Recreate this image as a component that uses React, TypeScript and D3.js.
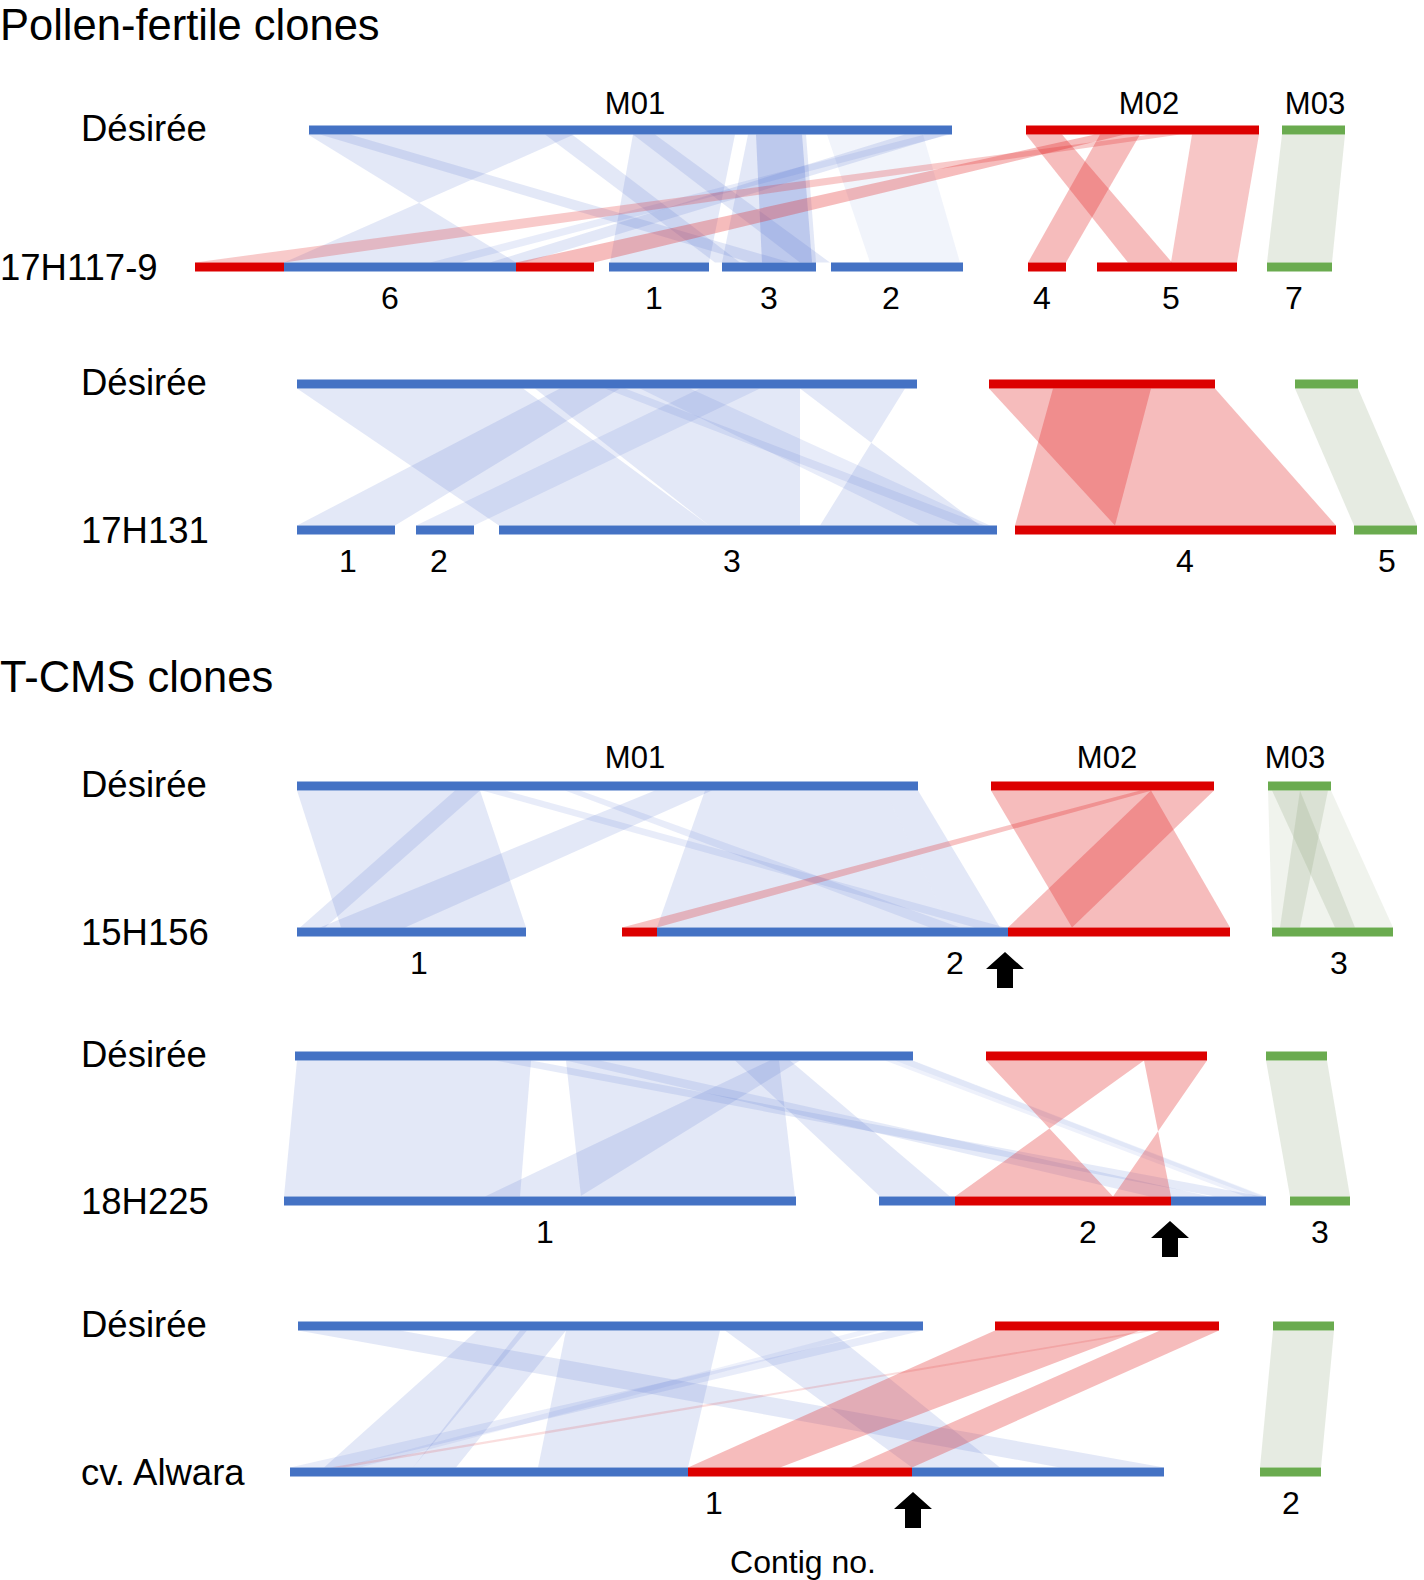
import React from 'react';
import * as d3 from 'd3';

// ---------- DATA (positions in alignment units along the mitogenome map) ----------
// segment: [start, end, molecule]  molecule: 'M01' | 'M02' | 'M03'
const desiree1 = [[309, 952, 'M01'], [1026, 1259, 'M02'], [1282, 1345, 'M03']];
const clone1 = [[195, 284, 'M02'], [284, 516, 'M01'], [516, 594, 'M02'], [609, 709, 'M01'], [722, 816, 'M01'], [831, 963, 'M01'], [1028, 1066, 'M02'], [1097, 1237, 'M02'], [1267, 1332, 'M03']];
const contigs1 = [['6', 390], ['1', 654], ['3', 769], ['2', 891], ['4', 1042], ['5', 1171], ['7', 1294]];
// link: [desiree start, desiree end, clone start, clone end, molecule, weight]
const links1 = [
  [308, 574, 516, 284, 'M01', 1], [320, 350, 750, 790, 'M01', 1], [545, 572, 715, 740, 'M01', 1],
  [633, 655, 800, 830, 'M01', 1], [633, 735, 610, 709, 'M01', 1], [748, 806, 722, 816, 'M01', 1],
  [756, 802, 762, 812, 'M01', 1.6], [827, 923, 870, 960, 'M01', 0.5], [905, 947, 490, 525, 'M01', 1],
  [925, 950, 430, 460, 'M01', 0.8],
  [1095, 1125, 516, 594, 'M02', 1], [1150, 1180, 195, 284, 'M02', 0.8], [1026, 1062, 1128, 1172, 'M02', 1],
  [1100, 1140, 1028, 1066, 'M02', 1], [1192, 1259, 1171, 1237, 'M02', 0.85],
  [1282, 1345, 1267, 1332, 'M03', 1],
];

const desiree2 = [[297, 917, 'M01'], [989, 1215, 'M02'], [1295, 1358, 'M03']];
const clone2 = [[297, 395, 'M01'], [416, 474, 'M01'], [499, 997, 'M01'], [1015, 1336, 'M02'], [1354, 1417, 'M03']];
const contigs2 = [['1', 348], ['2', 439], ['3', 732], ['4', 1185], ['5', 1387]];
const links2 = [
  [297, 523, 499, 709, 'M01', 1], [560, 620, 297, 395, 'M01', 1], [700, 760, 416, 474, 'M01', 0.8],
  [535, 712, 709, 712, 'M01', 1], [712, 800, 712, 800, 'M01', 1], [800, 905, 980, 820, 'M01', 1],
  [605, 625, 960, 985, 'M01', 0.8], [640, 690, 920, 990, 'M01', 0.8],
  [989, 1215, 1115, 1336, 'M02', 1], [1053, 1151, 1015, 1115, 'M02', 1],
  [1295, 1358, 1354, 1417, 'M03', 1],
];

const desiree3 = [[297, 918, 'M01'], [991, 1214, 'M02'], [1268, 1331, 'M03']];
const clone3 = [[297, 526, 'M01'], [622, 657, 'M02'], [657, 1008, 'M01'], [1008, 1230, 'M02'], [1272, 1393, 'M03']];
const contigs3 = [['1', 419], ['2', 955], ['3', 1339]];
const arrows3 = [1005];
const links3 = [
  [297, 480, 341, 526, 'M01', 1], [455, 480, 300, 325, 'M01', 1], [655, 712, 320, 405, 'M01', 1],
  [705, 795, 657, 795, 'M01', 1], [795, 885, 795, 950, 'M01', 1], [885, 918, 950, 1000, 'M01', 1],
  [482, 505, 975, 1005, 'M01', 0.8], [565, 580, 930, 960, 'M01', 0.8],
  [1140, 1152, 622, 657, 'M02', 0.9], [991, 1151, 1072, 1230, 'M02', 1], [1151, 1214, 1008, 1072, 'M02', 1],
  [1268, 1331, 1272, 1393, 'M03', 0.6], [1272, 1300, 1335, 1355, 'M03', 1], [1300, 1328, 1280, 1300, 'M03', 1],
];

const desiree4 = [[295, 913, 'M01'], [986, 1207, 'M02'], [1266, 1327, 'M03']];
const clone4 = [[284, 796, 'M01'], [879, 955, 'M01'], [955, 1171, 'M02'], [1171, 1266, 'M01'], [1290, 1350, 'M03']];
const contigs4 = [['1', 545], ['2', 1088], ['3', 1320]];
const arrows4 = [1170];
const links4 = [
  [297, 531, 284, 520, 'M01', 1], [566, 779, 581, 795, 'M01', 1], [770, 800, 485, 580, 'M01', 1],
  [735, 790, 880, 950, 'M01', 1], [495, 531, 1215, 1262, 'M01', 0.9], [566, 600, 1150, 1210, 'M01', 0.9],
  [885, 912, 1245, 1264, 'M01', 0.6], [895, 913, 1255, 1266, 'M01', 0.5],
  [986, 1144, 1113, 955, 'M02', 1], [1144, 1207, 1171, 1113, 'M02', 1],
  [1266, 1327, 1290, 1350, 'M03', 1],
];

const desiree5 = [[298, 923, 'M01'], [995, 1219, 'M02'], [1273, 1334, 'M03']];
const clone5 = [[290, 688, 'M01'], [688, 912, 'M02'], [912, 1164, 'M01'], [1260, 1321, 'M03']];
const contigs5 = [['1', 714], ['2', 1291]];
const arrows5 = [913];
const links5 = [
  [298, 400, 1060, 1164, 'M01', 1], [566, 720, 538, 688, 'M01', 1], [725, 830, 912, 1000, 'M01', 1],
  [477, 527, 324, 413, 'M01', 1], [520, 566, 413, 456, 'M01', 1], [890, 923, 290, 340, 'M01', 0.8],
  [860, 880, 340, 360, 'M01', 0.6],
  [995, 1140, 688, 780, 'M02', 1], [1160, 1219, 850, 912, 'M02', 1], [1145, 1155, 330, 345, 'M02', 0.5],
  [1273, 1334, 1260, 1321, 'M03', 1],
];

const cloneNames = ['17H117-9', '17H131', '15H156', '18H225', 'cv. Alwara'];
const referenceName = 'Désirée';
const groupTitles = ['Pollen-fertile clones', 'T-CMS clones'];
const moleculeNames = ['M01', 'M02', 'M03'];

// ---------- LAYOUT / STYLE ----------
const W = 1424;
const H = 1580;
const FONT = '"Liberation Sans", Arial, Helvetica, sans-serif';
const BAR_H = 9;
const BAR_COLOR = { M01: '#4472c4', M02: '#dc0000', M03: '#6aab4f' };
const LINK_COLOR = { M01: '#4f6fd0', M02: '#e02020', M03: '#8ea37a' };
const LINK_OPACITY = { M01: 0.16, M02: 0.3, M03: 0.22 };

const panels = [
  { top: desiree1, bottom: clone1, contigs: contigs1, links: links1, arrows: [], rowY: [130, 267], molLabelX: [635, 1149, 1315], molLabelY: 103 },
  { top: desiree2, bottom: clone2, contigs: contigs2, links: links2, arrows: [], rowY: [384, 530], molLabelX: null, molLabelY: 0 },
  { top: desiree3, bottom: clone3, contigs: contigs3, links: links3, arrows: arrows3, rowY: [786, 932], molLabelX: [635, 1107, 1295], molLabelY: 757 },
  { top: desiree4, bottom: clone4, contigs: contigs4, links: links4, arrows: arrows4, rowY: [1056, 1201], molLabelX: null, molLabelY: 0 },
  { top: desiree5, bottom: clone5, contigs: contigs5, links: links5, arrows: arrows5, rowY: [1326, 1472], molLabelX: null, molLabelY: 0 },
];
const titleY = [40, 692];

const x = d3.scaleLinear().domain([0, 1424]).range([0, W]);

function linkPath(l, yT, yB) {
  const [t0, t1, b0, b1] = l;
  const pts = [[x(t0), yT], [x(t1), yT], [x(b1), yB], [x(b0), yB]];
  return d3.line()(pts) + 'Z';
}

function Arrow({ cx, yTip }) {
  const hw = 19, hh = 17, sw = 8, sh = 19;
  const pts = [
    [cx, yTip], [cx + hw, yTip + hh], [cx + sw, yTip + hh], [cx + sw, yTip + hh + sh],
    [cx - sw, yTip + hh + sh], [cx - sw, yTip + hh], [cx - hw, yTip + hh],
  ];
  return <path d={d3.line()(pts) + 'Z'} fill="#000" />;
}

export default function App() {
  return (
    <svg width={W} height={H} viewBox={`0 0 ${W} ${H}`} style={{ position: 'absolute', left: 0, top: 0, background: '#fff' }} fontFamily={FONT}>
      <rect width={W} height={H} fill="#fff" />
      {groupTitles.map((t, i) => (
        <text key={t} x={0} y={titleY[i]} fontSize={43.5} fill="#000">{t}</text>
      ))}
      {panels.map((p, pi) => {
        const [yT, yB] = p.rowY;
        const yTe = yT + BAR_H / 2;
        const yBe = yB - BAR_H / 2;
        return (
          <g key={pi}>
            {p.links.map((l, li) => (
              <path key={li} d={linkPath(l, yTe, yBe)} fill={LINK_COLOR[l[4]]} fillOpacity={Math.min(1, LINK_OPACITY[l[4]] * l[5])} stroke="none" />
            ))}
            {p.top.map((s, si) => (
              <rect key={'t' + si} x={x(s[0])} y={yT - BAR_H / 2} width={x(s[1]) - x(s[0])} height={BAR_H} fill={BAR_COLOR[s[2]]} />
            ))}
            {p.bottom.map((s, si) => (
              <rect key={'b' + si} x={x(s[0])} y={yB - BAR_H / 2} width={x(s[1]) - x(s[0])} height={BAR_H} fill={BAR_COLOR[s[2]]} />
            ))}
            <text x={81} y={yT + 11} fontSize={36.5} fill="#000">{referenceName}</text>
            <text x={pi === 0 ? 0 : 81} y={yB + 13} fontSize={36.5} fill="#000">{cloneNames[pi]}</text>
            {p.contigs.map((c) => (
              <text key={c[0]} x={x(c[1])} y={yB + 42} fontSize={32} textAnchor="middle" fill="#000">{c[0]}</text>
            ))}
            {p.molLabelX && moleculeNames.map((m, mi) => (
              <text key={m} x={x(p.molLabelX[mi])} y={p.molLabelY + 11} fontSize={31} textAnchor="middle" fill="#000">{m}</text>
            ))}
            {p.arrows.map((a, ai) => (
              <Arrow key={ai} cx={x(a)} yTip={yB + 20} />
            ))}
          </g>
        );
      })}
      <text x={x(803)} y={1573} fontSize={32} textAnchor="middle" fill="#000">Contig no.</text>
    </svg>
  );
}
